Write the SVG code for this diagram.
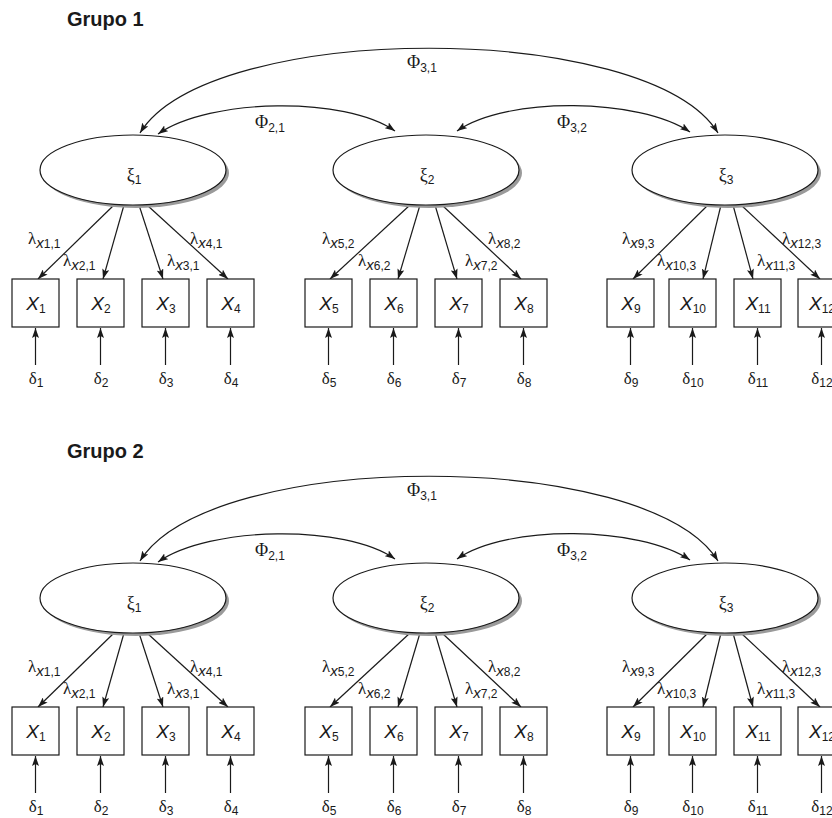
<svg xmlns="http://www.w3.org/2000/svg" width="832" height="818" viewBox="0 0 832 818">
<defs>
<style>
.ln{stroke:#1a1a1a;stroke-width:1.2;fill:none}
.bx{fill:#fff;stroke:#1a1a1a;stroke-width:1.2}
.el{fill:#fff;stroke:#1a1a1a;stroke-width:1.2}
.sh{fill:#9a9a9a}
.gk{font-family:"Liberation Serif","DejaVu Serif",serif;font-size:17px;fill:#1a1a1a}
.xi{font-family:"Liberation Serif","DejaVu Serif",serif;font-size:18px;fill:#1a1a1a}
.ph{font-family:"Liberation Serif","DejaVu Serif",serif;font-size:18px;fill:#1a1a1a}
.s{font-family:"Liberation Sans",Arial,sans-serif;font-size:12px;font-style:normal}
.sx{font-family:"Liberation Sans",Arial,sans-serif;font-size:15px;font-style:italic}
.xv{font-family:"Liberation Sans",Arial,sans-serif;font-size:19px;font-style:italic;fill:#1a1a1a}
.tt{font-family:"Liberation Sans",Arial,sans-serif;font-size:20px;font-weight:bold;fill:#1a1a1a}
.m{text-anchor:middle}
</style>
<marker id="ah" viewBox="0 0 10 7" refX="10" refY="3.5" markerWidth="10" markerHeight="7" markerUnits="userSpaceOnUse" orient="auto-start-reverse">
<path d="M0,0 L10,3.5 L0,7 L2,3.5 z" fill="#1a1a1a"/>
</marker>
</defs>
<rect width="832" height="818" fill="#fff"/>

<text id="title1" class="tt" x="67" y="26">Grupo 1</text>
<text id="title2" class="tt" x="67" y="458">Grupo 2</text>

<!-- ============ GROUP 1 ============ -->
<g id="grupo1">
<g id="g1-connectors" class="ln">
<path d="M140,133 C210,20 648,20 718,133" marker-start="url(#ah)" marker-end="url(#ah)"/>
<path d="M158,134 C210,98 345,96 395,131" marker-start="url(#ah)" marker-end="url(#ah)"/>
<path d="M457,131 C507,96 640,98 690,132" marker-start="url(#ah)" marker-end="url(#ah)"/>
<path d="M114,205 L38,279" marker-end="url(#ah)"/>
<path d="M124,205 L103,279" marker-end="url(#ah)"/>
<path d="M139,205 L163,279" marker-end="url(#ah)"/>
<path d="M147,205 L228,279" marker-end="url(#ah)"/>
<path d="M410,205 L330,279" marker-end="url(#ah)"/>
<path d="M420,205 L398,279" marker-end="url(#ah)"/>
<path d="M435,205 L457,279" marker-end="url(#ah)"/>
<path d="M442,205 L521,279" marker-end="url(#ah)"/>
<path d="M708,205 L633,279" marker-end="url(#ah)"/>
<path d="M721,205 L703,279" marker-end="url(#ah)"/>
<path d="M733,205 L753,279" marker-end="url(#ah)"/>
<path d="M741,205 L820,279" marker-end="url(#ah)"/>
<path d="M35.5,365 L35.5,328" marker-end="url(#ah)"/>
<path d="M100.5,365 L100.5,328" marker-end="url(#ah)"/>
<path d="M165.5,365 L165.5,328" marker-end="url(#ah)"/>
<path d="M230.5,365 L230.5,328" marker-end="url(#ah)"/>
<path d="M328.5,365 L328.5,328" marker-end="url(#ah)"/>
<path d="M393.5,365 L393.5,328" marker-end="url(#ah)"/>
<path d="M458.5,365 L458.5,328" marker-end="url(#ah)"/>
<path d="M523.5,365 L523.5,328" marker-end="url(#ah)"/>
<path d="M630.5,365 L630.5,328" marker-end="url(#ah)"/>
<path d="M692.5,365 L692.5,328" marker-end="url(#ah)"/>
<path d="M757.5,365 L757.5,328" marker-end="url(#ah)"/>
<path d="M821.5,365 L821.5,328" marker-end="url(#ah)"/>
</g>
<g id="g1-labels">
<text class="ph" x="407" y="68">Φ<tspan class="s" dy="4">3,1</tspan></text>
<text class="ph" x="255" y="128">Φ<tspan class="s" dy="4">2,1</tspan></text>
<text class="ph" x="557" y="128">Φ<tspan class="s" dy="4">3,2</tspan></text>
<text class="gk" x="28" y="244">λ<tspan class="sx" dy="4">x</tspan><tspan class="s">1,1</tspan></text>
<text class="gk" x="63" y="266">λ<tspan class="sx" dy="4">x</tspan><tspan class="s">2,1</tspan></text>
<text class="gk" x="167" y="266">λ<tspan class="sx" dy="4">x</tspan><tspan class="s">3,1</tspan></text>
<text class="gk" x="190" y="244">λ<tspan class="sx" dy="4">x</tspan><tspan class="s">4,1</tspan></text>
<text class="gk" x="322" y="244">λ<tspan class="sx" dy="4">x</tspan><tspan class="s">5,2</tspan></text>
<text class="gk" x="358" y="266">λ<tspan class="sx" dy="4">x</tspan><tspan class="s">6,2</tspan></text>
<text class="gk" x="465" y="266">λ<tspan class="sx" dy="4">x</tspan><tspan class="s">7,2</tspan></text>
<text class="gk" x="488" y="244">λ<tspan class="sx" dy="4">x</tspan><tspan class="s">8,2</tspan></text>
<text class="gk" x="622" y="244">λ<tspan class="sx" dy="4">x</tspan><tspan class="s">9,3</tspan></text>
<text class="gk" x="657" y="266">λ<tspan class="sx" dy="4">x</tspan><tspan class="s">10,3</tspan></text>
<text class="gk" x="757" y="266">λ<tspan class="sx" dy="4">x</tspan><tspan class="s">11,3</tspan></text>
<text class="gk" x="782" y="244">λ<tspan class="sx" dy="4">x</tspan><tspan class="s">12,3</tspan></text>
</g>
<g id="g1-xi1"><ellipse class="sh" cx="136" cy="173" rx="93" ry="35"/><ellipse class="el" cx="133" cy="170" rx="93" ry="35"/><text class="xi m" x="134" y="181">ξ<tspan class="s" dy="3">1</tspan></text></g>
<g id="g1-xi2"><ellipse class="sh" cx="429" cy="173" rx="93" ry="35"/><ellipse class="el" cx="426" cy="170" rx="93" ry="35"/><text class="xi m" x="427" y="181">ξ<tspan class="s" dy="3">2</tspan></text></g>
<g id="g1-xi3"><ellipse class="sh" cx="728" cy="173" rx="93" ry="35"/><ellipse class="el" cx="725" cy="170" rx="93" ry="35"/><text class="xi m" x="726" y="181">ξ<tspan class="s" dy="3">3</tspan></text></g>
<g id="g1-x1"><rect class="bx" x="12" y="279" width="47" height="48"/><text class="xv m" x="36" y="310">X<tspan class="s" dy="3">1</tspan></text></g>
<g id="g1-x2"><rect class="bx" x="77" y="279" width="47" height="48"/><text class="xv m" x="101" y="310">X<tspan class="s" dy="3">2</tspan></text></g>
<g id="g1-x3"><rect class="bx" x="142" y="279" width="47" height="48"/><text class="xv m" x="166" y="310">X<tspan class="s" dy="3">3</tspan></text></g>
<g id="g1-x4"><rect class="bx" x="207" y="279" width="47" height="48"/><text class="xv m" x="231" y="310">X<tspan class="s" dy="3">4</tspan></text></g>
<g id="g1-x5"><rect class="bx" x="305" y="279" width="47" height="48"/><text class="xv m" x="329" y="310">X<tspan class="s" dy="3">5</tspan></text></g>
<g id="g1-x6"><rect class="bx" x="370" y="279" width="47" height="48"/><text class="xv m" x="394" y="310">X<tspan class="s" dy="3">6</tspan></text></g>
<g id="g1-x7"><rect class="bx" x="435" y="279" width="47" height="48"/><text class="xv m" x="459" y="310">X<tspan class="s" dy="3">7</tspan></text></g>
<g id="g1-x8"><rect class="bx" x="500" y="279" width="47" height="48"/><text class="xv m" x="524" y="310">X<tspan class="s" dy="3">8</tspan></text></g>
<g id="g1-x9"><rect class="bx" x="607" y="279" width="47" height="48"/><text class="xv m" x="631" y="310">X<tspan class="s" dy="3">9</tspan></text></g>
<g id="g1-x10"><rect class="bx" x="669" y="279" width="47" height="48"/><text class="xv m" x="693" y="310">X<tspan class="s" dy="3">10</tspan></text></g>
<g id="g1-x11"><rect class="bx" x="734" y="279" width="47" height="48"/><text class="xv m" x="758" y="310">X<tspan class="s" dy="3">11</tspan></text></g>
<g id="g1-x12"><rect class="bx" x="798" y="279" width="47" height="48"/><text class="xv m" x="822" y="310">X<tspan class="s" dy="3">12</tspan></text></g>
<g id="g1-d1"><text class="gk m" x="36" y="384">δ<tspan class="s" dy="3">1</tspan></text></g>
<g id="g1-d2"><text class="gk m" x="101" y="384">δ<tspan class="s" dy="3">2</tspan></text></g>
<g id="g1-d3"><text class="gk m" x="166" y="384">δ<tspan class="s" dy="3">3</tspan></text></g>
<g id="g1-d4"><text class="gk m" x="231" y="384">δ<tspan class="s" dy="3">4</tspan></text></g>
<g id="g1-d5"><text class="gk m" x="329" y="384">δ<tspan class="s" dy="3">5</tspan></text></g>
<g id="g1-d6"><text class="gk m" x="394" y="384">δ<tspan class="s" dy="3">6</tspan></text></g>
<g id="g1-d7"><text class="gk m" x="459" y="384">δ<tspan class="s" dy="3">7</tspan></text></g>
<g id="g1-d8"><text class="gk m" x="524" y="384">δ<tspan class="s" dy="3">8</tspan></text></g>
<g id="g1-d9"><text class="gk m" x="631" y="384">δ<tspan class="s" dy="3">9</tspan></text></g>
<g id="g1-d10"><text class="gk m" x="693" y="384">δ<tspan class="s" dy="3">10</tspan></text></g>
<g id="g1-d11"><text class="gk m" x="758" y="384">δ<tspan class="s" dy="3">11</tspan></text></g>
<g id="g1-d12"><text class="gk m" x="822" y="384">δ<tspan class="s" dy="3">12</tspan></text></g>
</g>

<!-- ============ GROUP 2 ============ -->
<g id="grupo2" transform="translate(0,428)">
<g id="g2-connectors" class="ln">
<path d="M140,133 C210,20 648,20 718,133" marker-start="url(#ah)" marker-end="url(#ah)"/>
<path d="M158,134 C210,98 345,96 395,131" marker-start="url(#ah)" marker-end="url(#ah)"/>
<path d="M457,131 C507,96 640,98 690,132" marker-start="url(#ah)" marker-end="url(#ah)"/>
<path d="M114,205 L38,279" marker-end="url(#ah)"/>
<path d="M124,205 L103,279" marker-end="url(#ah)"/>
<path d="M139,205 L163,279" marker-end="url(#ah)"/>
<path d="M147,205 L228,279" marker-end="url(#ah)"/>
<path d="M410,205 L330,279" marker-end="url(#ah)"/>
<path d="M420,205 L398,279" marker-end="url(#ah)"/>
<path d="M435,205 L457,279" marker-end="url(#ah)"/>
<path d="M442,205 L521,279" marker-end="url(#ah)"/>
<path d="M708,205 L633,279" marker-end="url(#ah)"/>
<path d="M721,205 L703,279" marker-end="url(#ah)"/>
<path d="M733,205 L753,279" marker-end="url(#ah)"/>
<path d="M741,205 L820,279" marker-end="url(#ah)"/>
<path d="M35.5,365 L35.5,328" marker-end="url(#ah)"/>
<path d="M100.5,365 L100.5,328" marker-end="url(#ah)"/>
<path d="M165.5,365 L165.5,328" marker-end="url(#ah)"/>
<path d="M230.5,365 L230.5,328" marker-end="url(#ah)"/>
<path d="M328.5,365 L328.5,328" marker-end="url(#ah)"/>
<path d="M393.5,365 L393.5,328" marker-end="url(#ah)"/>
<path d="M458.5,365 L458.5,328" marker-end="url(#ah)"/>
<path d="M523.5,365 L523.5,328" marker-end="url(#ah)"/>
<path d="M630.5,365 L630.5,328" marker-end="url(#ah)"/>
<path d="M692.5,365 L692.5,328" marker-end="url(#ah)"/>
<path d="M757.5,365 L757.5,328" marker-end="url(#ah)"/>
<path d="M821.5,365 L821.5,328" marker-end="url(#ah)"/>
</g>
<g id="g2-labels">
<text class="ph" x="407" y="68">Φ<tspan class="s" dy="4">3,1</tspan></text>
<text class="ph" x="255" y="128">Φ<tspan class="s" dy="4">2,1</tspan></text>
<text class="ph" x="557" y="128">Φ<tspan class="s" dy="4">3,2</tspan></text>
<text class="gk" x="28" y="244">λ<tspan class="sx" dy="4">x</tspan><tspan class="s">1,1</tspan></text>
<text class="gk" x="63" y="266">λ<tspan class="sx" dy="4">x</tspan><tspan class="s">2,1</tspan></text>
<text class="gk" x="167" y="266">λ<tspan class="sx" dy="4">x</tspan><tspan class="s">3,1</tspan></text>
<text class="gk" x="190" y="244">λ<tspan class="sx" dy="4">x</tspan><tspan class="s">4,1</tspan></text>
<text class="gk" x="322" y="244">λ<tspan class="sx" dy="4">x</tspan><tspan class="s">5,2</tspan></text>
<text class="gk" x="358" y="266">λ<tspan class="sx" dy="4">x</tspan><tspan class="s">6,2</tspan></text>
<text class="gk" x="465" y="266">λ<tspan class="sx" dy="4">x</tspan><tspan class="s">7,2</tspan></text>
<text class="gk" x="488" y="244">λ<tspan class="sx" dy="4">x</tspan><tspan class="s">8,2</tspan></text>
<text class="gk" x="622" y="244">λ<tspan class="sx" dy="4">x</tspan><tspan class="s">9,3</tspan></text>
<text class="gk" x="657" y="266">λ<tspan class="sx" dy="4">x</tspan><tspan class="s">10,3</tspan></text>
<text class="gk" x="757" y="266">λ<tspan class="sx" dy="4">x</tspan><tspan class="s">11,3</tspan></text>
<text class="gk" x="782" y="244">λ<tspan class="sx" dy="4">x</tspan><tspan class="s">12,3</tspan></text>
</g>
<g id="g2-xi1"><ellipse class="sh" cx="136" cy="173" rx="93" ry="35"/><ellipse class="el" cx="133" cy="170" rx="93" ry="35"/><text class="xi m" x="134" y="181">ξ<tspan class="s" dy="3">1</tspan></text></g>
<g id="g2-xi2"><ellipse class="sh" cx="429" cy="173" rx="93" ry="35"/><ellipse class="el" cx="426" cy="170" rx="93" ry="35"/><text class="xi m" x="427" y="181">ξ<tspan class="s" dy="3">2</tspan></text></g>
<g id="g2-xi3"><ellipse class="sh" cx="728" cy="173" rx="93" ry="35"/><ellipse class="el" cx="725" cy="170" rx="93" ry="35"/><text class="xi m" x="726" y="181">ξ<tspan class="s" dy="3">3</tspan></text></g>
<g id="g2-x1"><rect class="bx" x="12" y="279" width="47" height="48"/><text class="xv m" x="36" y="310">X<tspan class="s" dy="3">1</tspan></text></g>
<g id="g2-x2"><rect class="bx" x="77" y="279" width="47" height="48"/><text class="xv m" x="101" y="310">X<tspan class="s" dy="3">2</tspan></text></g>
<g id="g2-x3"><rect class="bx" x="142" y="279" width="47" height="48"/><text class="xv m" x="166" y="310">X<tspan class="s" dy="3">3</tspan></text></g>
<g id="g2-x4"><rect class="bx" x="207" y="279" width="47" height="48"/><text class="xv m" x="231" y="310">X<tspan class="s" dy="3">4</tspan></text></g>
<g id="g2-x5"><rect class="bx" x="305" y="279" width="47" height="48"/><text class="xv m" x="329" y="310">X<tspan class="s" dy="3">5</tspan></text></g>
<g id="g2-x6"><rect class="bx" x="370" y="279" width="47" height="48"/><text class="xv m" x="394" y="310">X<tspan class="s" dy="3">6</tspan></text></g>
<g id="g2-x7"><rect class="bx" x="435" y="279" width="47" height="48"/><text class="xv m" x="459" y="310">X<tspan class="s" dy="3">7</tspan></text></g>
<g id="g2-x8"><rect class="bx" x="500" y="279" width="47" height="48"/><text class="xv m" x="524" y="310">X<tspan class="s" dy="3">8</tspan></text></g>
<g id="g2-x9"><rect class="bx" x="607" y="279" width="47" height="48"/><text class="xv m" x="631" y="310">X<tspan class="s" dy="3">9</tspan></text></g>
<g id="g2-x10"><rect class="bx" x="669" y="279" width="47" height="48"/><text class="xv m" x="693" y="310">X<tspan class="s" dy="3">10</tspan></text></g>
<g id="g2-x11"><rect class="bx" x="734" y="279" width="47" height="48"/><text class="xv m" x="758" y="310">X<tspan class="s" dy="3">11</tspan></text></g>
<g id="g2-x12"><rect class="bx" x="798" y="279" width="47" height="48"/><text class="xv m" x="822" y="310">X<tspan class="s" dy="3">12</tspan></text></g>
<g id="g2-d1"><text class="gk m" x="36" y="384">δ<tspan class="s" dy="3">1</tspan></text></g>
<g id="g2-d2"><text class="gk m" x="101" y="384">δ<tspan class="s" dy="3">2</tspan></text></g>
<g id="g2-d3"><text class="gk m" x="166" y="384">δ<tspan class="s" dy="3">3</tspan></text></g>
<g id="g2-d4"><text class="gk m" x="231" y="384">δ<tspan class="s" dy="3">4</tspan></text></g>
<g id="g2-d5"><text class="gk m" x="329" y="384">δ<tspan class="s" dy="3">5</tspan></text></g>
<g id="g2-d6"><text class="gk m" x="394" y="384">δ<tspan class="s" dy="3">6</tspan></text></g>
<g id="g2-d7"><text class="gk m" x="459" y="384">δ<tspan class="s" dy="3">7</tspan></text></g>
<g id="g2-d8"><text class="gk m" x="524" y="384">δ<tspan class="s" dy="3">8</tspan></text></g>
<g id="g2-d9"><text class="gk m" x="631" y="384">δ<tspan class="s" dy="3">9</tspan></text></g>
<g id="g2-d10"><text class="gk m" x="693" y="384">δ<tspan class="s" dy="3">10</tspan></text></g>
<g id="g2-d11"><text class="gk m" x="758" y="384">δ<tspan class="s" dy="3">11</tspan></text></g>
<g id="g2-d12"><text class="gk m" x="822" y="384">δ<tspan class="s" dy="3">12</tspan></text></g>
</g>
</svg>
